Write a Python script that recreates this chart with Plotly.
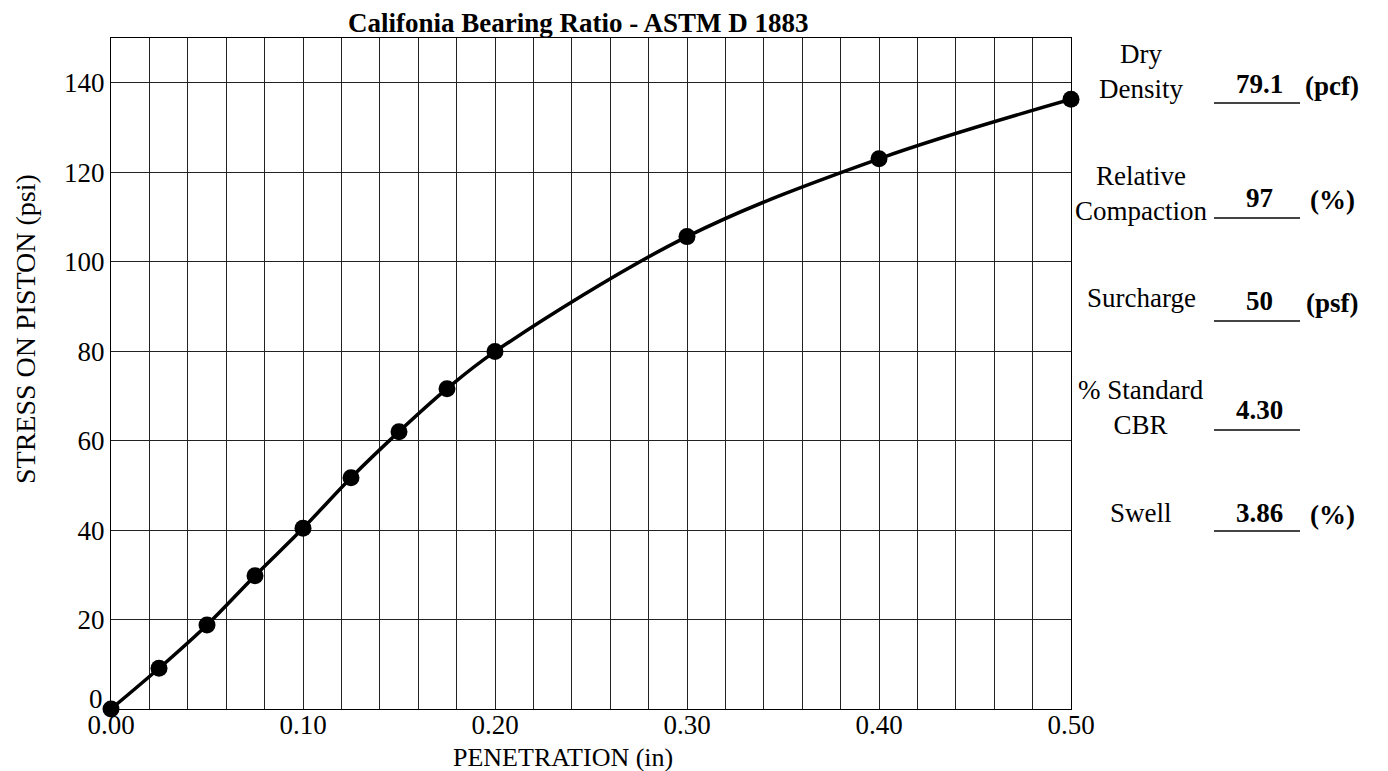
import plotly.graph_objects as go

# CBR test readings
penetration = [0.000, 0.025, 0.050, 0.075, 0.100, 0.125, 0.150, 0.175, 0.200, 0.300, 0.400, 0.500]
stress = [0.0, 9.1, 18.8, 29.8, 40.4, 51.7, 62.0, 71.6, 79.9, 105.6, 123.0, 136.3]

# summary block on the right
info_labels = ['Dry<br>Density', 'Relative<br>Compaction', 'Surcharge', '% Standard<br>CBR', 'Swell']
info_values = ['79.1', '97', '50', '4.30', '3.86']
info_units = ['(pcf)', '(%)', '(psf)', '', '(%)']

y_ticks = [20, 40, 60, 80, 100, 120, 140]

FONT = 'Liberation Serif, Times New Roman, serif'

# plot area in page pixels; the html body adds an 8px margin
OFF = 8
L, R, T, B = 111, 1071, 38, 709
W, H = 1388 - OFF, 771 - OFF


def px(x):
    return (x - L) / (R - L)


def py(y):
    return (B - y) / (B - T)


fig = go.Figure()

fig.add_trace(go.Scatter(
    x=penetration,
    y=stress,
    mode='lines+markers',
    line=dict(color='black', width=3.5, shape='spline', smoothing=1),
    marker=dict(color='black', size=17),
    cliponaxis=False,
    showlegend=False,
))

annotations = [
    dict(text='<b>Califonia Bearing Ratio - ASTM D 1883</b>', x=px(578), y=py(23),
         font=dict(size=27)),
    dict(text='PENETRATION (in)', x=px(563), y=py(757), font=dict(size=26)),
    dict(text='STRESS ON PISTON (psi)', x=px(25), y=py(329), textangle=-90,
         font=dict(size=28)),
]

label_y = [71, 194, 298, 407, 513]
value_y = [84, 198, 301, 410, 513]
line_y = [103, 218, 321, 430, 531]
shapes = []
for lab, val, unit, ly, vy, uy in zip(info_labels, info_values, info_units, label_y, value_y, line_y):
    annotations.append(dict(text=lab, x=px(1141), y=py(ly), font=dict(size=27)))
    annotations.append(dict(text='<b>%s</b>' % val, x=px(1259), y=py(vy), font=dict(size=27)))
    if unit:
        annotations.append(dict(text='<b>%s</b>' % unit, x=px(1332), y=py(vy + 2), font=dict(size=27)))
    shapes.append(dict(type='line', xref='paper', yref='paper',
                       x0=px(1214), x1=px(1300), y0=py(uy), y1=py(uy),
                       line=dict(color='#444', width=2)))

for a in annotations:
    a.update(xref='paper', yref='paper', showarrow=False, xanchor='center', yanchor='middle')

# zero label sits a little above the corner, like the original
annotations.append(dict(text='0', x=0, y=0, xref='x', yref='y', showarrow=False,
                        xanchor='right', yanchor='middle', xshift=-6, yshift=10,
                        font=dict(size=27)))

for a in annotations:
    a['font'].update(family=FONT, color='black')

fig.update_layout(
    width=W,
    height=H,
    margin=dict(l=L - OFF, r=1388 - R, t=T - OFF, b=771 - B, pad=0),
    paper_bgcolor='white',
    plot_bgcolor='white',
    font=dict(family=FONT, color='black', size=27),
    annotations=annotations,
    shapes=shapes,
    xaxis=dict(
        range=[0, 0.5],
        dtick=0.1,
        tick0=0,
        tickformat='.2f',
        showgrid=True,
        gridcolor='#222',
        gridwidth=1,
        minor=dict(dtick=0.02, showgrid=True, gridcolor='#222', gridwidth=1),
        showline=True,
        linecolor='black',
        linewidth=1,
        mirror=True,
        zeroline=False,
        ticks='',
        ticklabelstandoff=-8,
        tickfont=dict(size=27),
    ),
    yaxis=dict(
        range=[0, 150],
        tickvals=y_ticks,
        showgrid=True,
        gridcolor='#222',
        gridwidth=1,
        showline=True,
        linecolor='black',
        linewidth=1,
        mirror=True,
        zeroline=False,
        ticks='',
        tickfont=dict(size=27),
    ),
)

fig.write_html('out.html')
